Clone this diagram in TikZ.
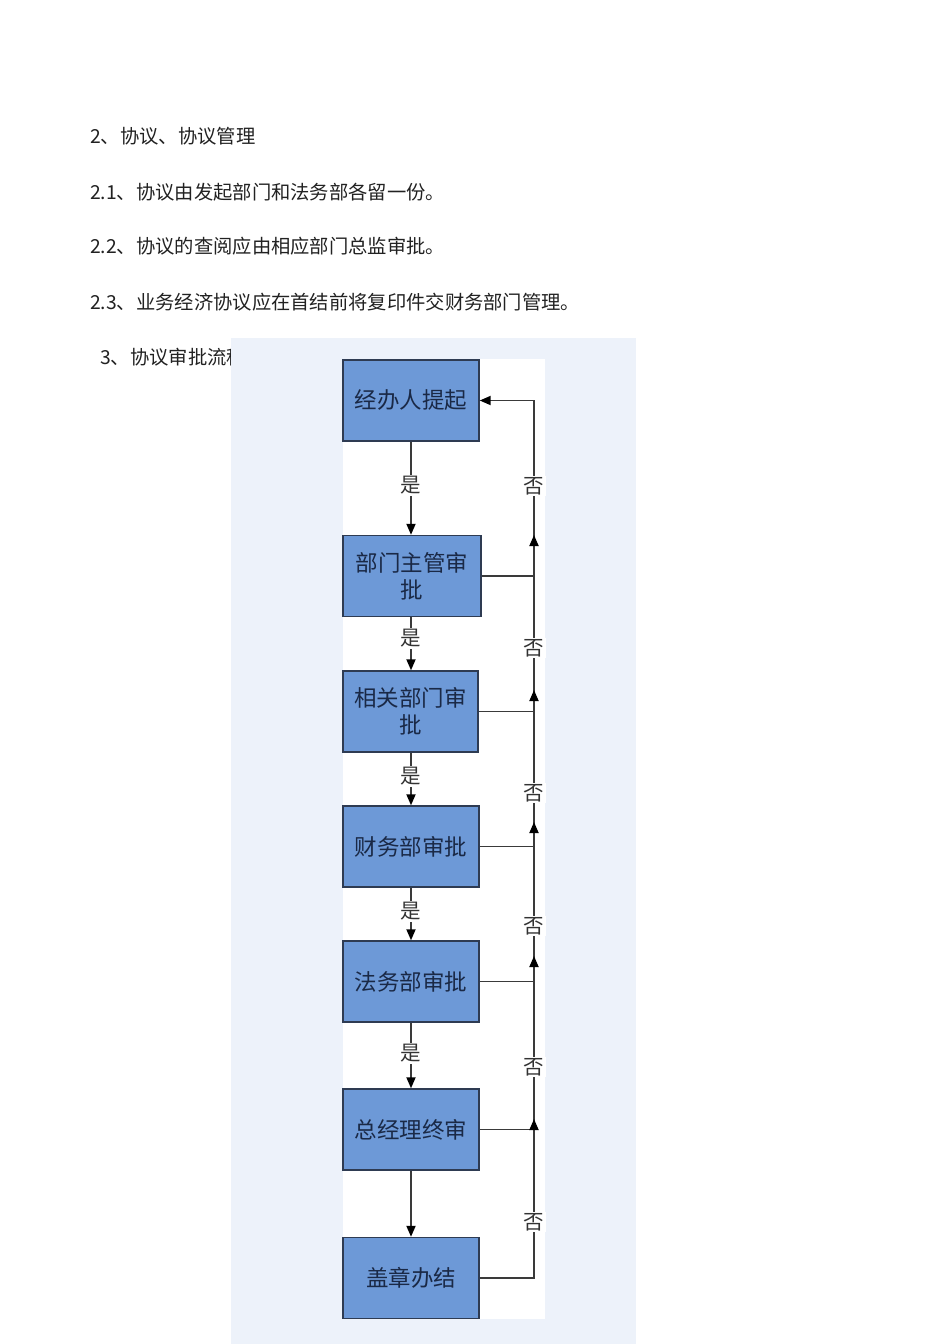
\documentclass[tikz,border=0pt]{standalone}
\usepackage{fontspec}
\newfontfamily\cjk{Noto Sans CJK SC}
\usetikzlibrary{arrows.meta}
\definecolor{boxfill}{HTML}{6D99D7}
\definecolor{boxline}{HTML}{2E3B52}
\definecolor{boxtext}{HTML}{1A2946}
\definecolor{linec}{HTML}{3A3A3A}
\definecolor{labtext}{HTML}{333333}
\definecolor{bodytext}{HTML}{222222}
\definecolor{panelbg}{HTML}{EDF2FA}
\begin{document}
\begin{tikzpicture}[x=1pt,y=-1pt,
  box/.style={draw=boxline,line width=1.4pt,fill=boxfill,minimum width=136pt,minimum height=81pt,inner sep=0pt,font=\cjk\fontsize{22.5}{27}\selectfont,text=boxtext,align=center},
  conn/.style={draw=linec,line width=1.8pt},
  tip/.style={-{Triangle[length=11pt,width=9pt,color=black]}},
  lab/.style={fill=white,inner sep=1.5pt,font=\cjk\fontsize{20.5}{20.5}\selectfont,text=labtext},
  body/.style={anchor=base west,inner sep=0pt,font=\cjk\fontsize{19.3}{19.3}\selectfont,text=bodytext}]
\useasboundingbox[fill=white] (0,0) rectangle (950,1344);
% body text
\node[body] (t1) at (90,143) {2、协议、协议管理};
\node[body] (t2) at (90,199) {2.1、协议由发起部门和法务部各留一份。};
\node[body] (t3) at (90,253) {2.2、协议的查阅应由相应部门总监审批。};
\node[body] (t4) at (90,309) {2.3、业务经济协议应在首结前将复印件交财务部门管理。};
\node[body] (t5) at (100,364) {3、协议审批流程：};
% panels
\fill[panelbg] (231,338) rectangle (636,1344);
\fill[white] (343,359) rectangle (545,1319);
% boxes
\node[box] (b1) at (411,400.5) {经办人提起};
\node[box,minimum width=138pt] (b2) at (412,576) {部门主管审\\批};
\node[box,minimum width=135pt] (b3) at (410.5,711.5) {相关部门审\\批};
\node[box] (b4) at (411,846.5) {财务部审批};
\node[box] (b5) at (411,981.5) {法务部审批};
\node[box] (b6) at (411,1129.5) {总经理终审};
\node[box] (b7) at (411,1278) {盖章办结};
% downward arrows
\draw[conn,tip] (b1.south) -- (b1.south |- b2.north) node[lab,pos=0.47] (y1) {是};
\draw[conn,tip] (b2.south -| b1.south) -- (b1.south |- b3.north) node[lab,pos=0.4] (y2) {是};
\draw[conn,tip] (b3.south -| b1.south) -- (b1.south |- b4.north) node[lab,pos=0.45] (y3) {是};
\draw[conn,tip] (b4.south) -- (b5.north) node[lab,pos=0.45] (y4) {是};
\draw[conn,tip] (b5.south) -- (b6.north) node[lab,pos=0.47] (y5) {是};
\draw[conn,tip] (b6.south) -- (b7.north);
% return connectors
\coordinate (r1) at (534,400.5);
\coordinate (a2) at (534,535);
\coordinate (a3) at (534,690);
\coordinate (a4) at (534,822);
\coordinate (a5) at (534,956);
\coordinate (a6) at (534,1119);
\draw[conn,tip] (b2.east) -| (r1) -- (b1.east);
\draw[conn,tip] (b3.east) -| (a2);
\draw[conn,tip] (b4.east) -| (a3);
\draw[conn,tip] (b5.east) -| (a4);
\draw[conn,tip] (b6.east) -| (a5);
\draw[conn,tip] (b7.east) -| (a6);
% no labels
\node[lab] (n1) at (534,486) {否};
\node[lab] (n2) at (534,648) {否};
\node[lab] (n3) at (534,793) {否};
\node[lab] (n4) at (534,926) {否};
\node[lab] (n5) at (534,1067) {否};
\node[lab] (n6) at (534,1222) {否};
\end{tikzpicture}
\end{document}
